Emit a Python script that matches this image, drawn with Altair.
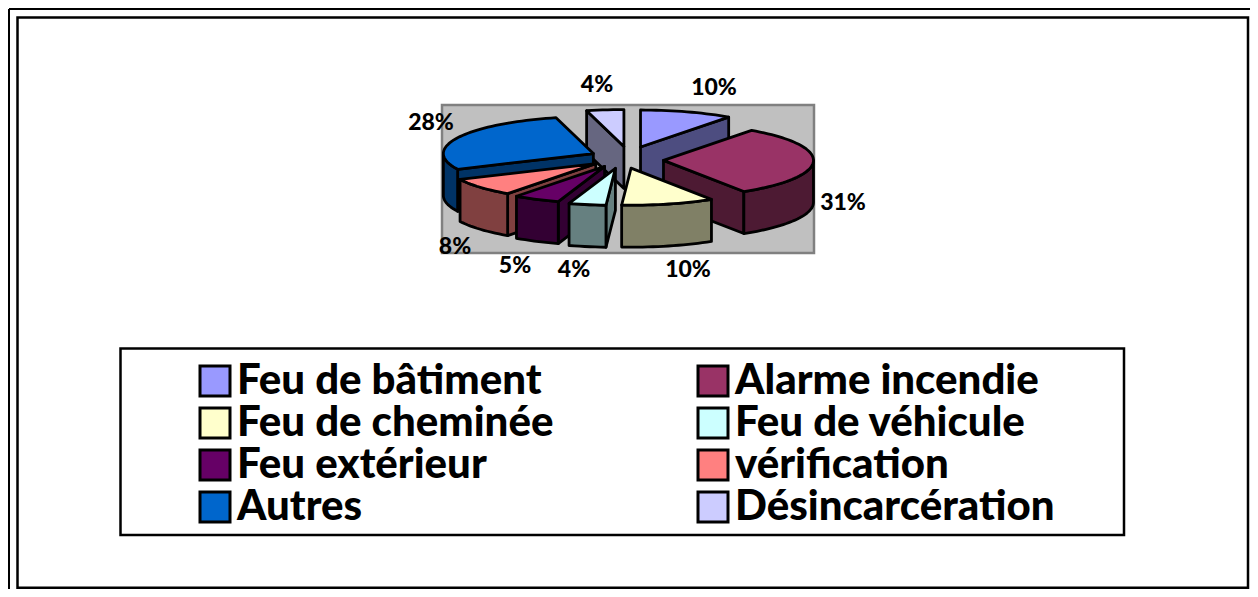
import math
import altair as alt

# ---- data ----
categories = ["Feu de bâtiment", "Alarme incendie", "Feu de cheminée", "Feu de véhicule",
              "Feu extérieur", "vérification", "Autres", "Désincarcération"]
percent = [10, 31, 10, 4, 5, 8, 28, 4]
top_colors = ["#9999FF", "#993366", "#FFFFCC", "#CCFFFF", "#660066", "#FF8080", "#0066CC", "#CCCCFF"]
wall_colors = ["#4D4D80", "#4D1A33", "#808066", "#668080", "#330033", "#804040", "#003366", "#666680"]

# ---- layout (page pixels; canvas starts 8px into the page) ----
M = 8
W, H = 1242, 581
CX, CY, RX, RY, DEPTH, EXPL = 625, 157, 150, 37, 42, 0.27
paint_order = [0, 7, 1, 6, 5, 4, 2, 3]
slice_nudge = [(3, 0), (-2, 3), (-4, 1), (-2, 1), (-2, 0), (2, 0), (5, 1), (4, 0)]
label_xy = [(714, 88), (843, 203), (688, 270), (574, 270), (515, 266), (455, 247), (431, 123), (597, 85)]


def feature(pts, key):
    ring = [[round(x - M, 2), round(y - M, 2)] for x, y in pts]
    ring.append(ring[0])
    return {"type": "Feature", "properties": {"key": key},
            "geometry": {"type": "Polygon", "coordinates": [ring]}}


def rect(x0, y0, x1, y1):
    return [(x0, y0), (x1, y0), (x1, y1), (x0, y1)]


# angles
starts, acc = [], 0.0
for p in percent:
    starts.append(acc)
    acc += p * 3.6


def slice_features(i):
    s = starts[i]
    e = s + percent[i] * 3.6
    m = math.radians((s + e) / 2)
    ax = CX + EXPL * RX * math.sin(m) + slice_nudge[i][0]
    ay = CY - EXPL * RY * 1.05 * math.cos(m) + slice_nudge[i][1]

    def P(d):
        t = math.radians(d)
        return (ax + RX * math.sin(t), ay - RY * math.cos(t))

    def down(p):
        return (p[0], p[1] + DEPTH)

    apex = (ax, ay)
    wall = "wall " + categories[i]
    out = []
    # cut faces that face the viewer
    if math.sin(math.radians(s)) < -1e-9:
        a = P(s)
        out.append(feature([apex, a, down(a), down(apex)], wall))
    if math.sin(math.radians(e)) > 1e-9:
        a = P(e)
        out.append(feature([apex, a, down(a), down(apex)], wall))
    # outer wall on the front half of the rim
    lo, hi = max(s, 90), min(e, 270)
    if hi > lo:
        n = max(2, int((hi - lo) / 2))
        arc = [P(lo + (hi - lo) * k / n) for k in range(n + 1)]
        out.append(feature(arc + [down(p) for p in reversed(arc)], wall))
    # top face
    n = max(2, int((e - s) / 2))
    arc = [P(s + (e - s) * k / n) for k in range(n + 1)]
    out.append(feature([apex] + arc, categories[i]))
    return out


pie = []
for i in paint_order:
    pie += slice_features(i)

# identity projection: polygon coordinates are canvas pixels
proj = dict(type="identity", scale=1, translate=[0, 0])

frames = [feature(rect(17.5, 17.5, 1248, 587.8), "frame"),
          feature(rect(120.5, 348.5, 1124, 535), "frame")]
back = [feature(rect(442, 105, 814, 253), "plot")]
edges = [feature([(9, 9), (1258, 9), (1258, 9)], "edge"),
         feature([(9, 9), (9, 597), (9, 597)], "edge")]

frame_layer = alt.Chart(alt.Data(values=frames)).mark_geoshape(
    fill="transparent", stroke="black", strokeWidth=2.5).project(**proj)
edge_layer = alt.Chart(alt.Data(values=edges)).mark_geoshape(
    fill="transparent", stroke="black", strokeWidth=2).project(**proj)
back_layer = alt.Chart(alt.Data(values=back)).mark_geoshape(
    fill="#C0C0C0", stroke="#808080", strokeWidth=2.5).project(**proj)

wall_keys = ["wall " + c for c in categories]
pie_layer = alt.Chart(alt.Data(values=pie)).mark_geoshape(
    stroke="black", strokeWidth=2.8, strokeJoin="round").encode(
    fill=alt.Fill(
        "properties.key:N", sort=None,
        scale=alt.Scale(domain=categories + wall_keys, range=top_colors + wall_colors),
        legend=alt.Legend(
            values=categories[0::2] + categories[1::2], title=None, orient="none",
            legendX=194 - M, legendY=360 - M,
            columns=2, columnPadding=138, rowPadding=0,
            symbolType="square", symbolSize=900, symbolStrokeColor="black", symbolStrokeWidth=3,
            symbolOpacity=1, labelFont="Lato", labelFontWeight=900, labelFontSize=42,
            labelColor="black", labelLimit=500, labelOffset=1, padding=0,
        ),
    )
).project(**proj)

labels = alt.Chart(alt.Data(values=[
    {"t": f"{p}%", "x": x - M, "y": y - M} for p, (x, y) in zip(percent, label_xy)
])).mark_text(font="Lato", fontWeight=900, fontSize=23, color="black").encode(
    x=alt.X("x:Q", scale=None, axis=None), y=alt.Y("y:Q", scale=None, axis=None), text="t:N")

chart = alt.layer(frame_layer, edge_layer, back_layer, pie_layer, labels).properties(
    width=W, height=H, padding=0, background="white",
    autosize=alt.AutoSizeParams(type="none"),
).configure_view(stroke=None)

chart.save("out.html", embed_options={"renderer": "svg", "actions": False})
